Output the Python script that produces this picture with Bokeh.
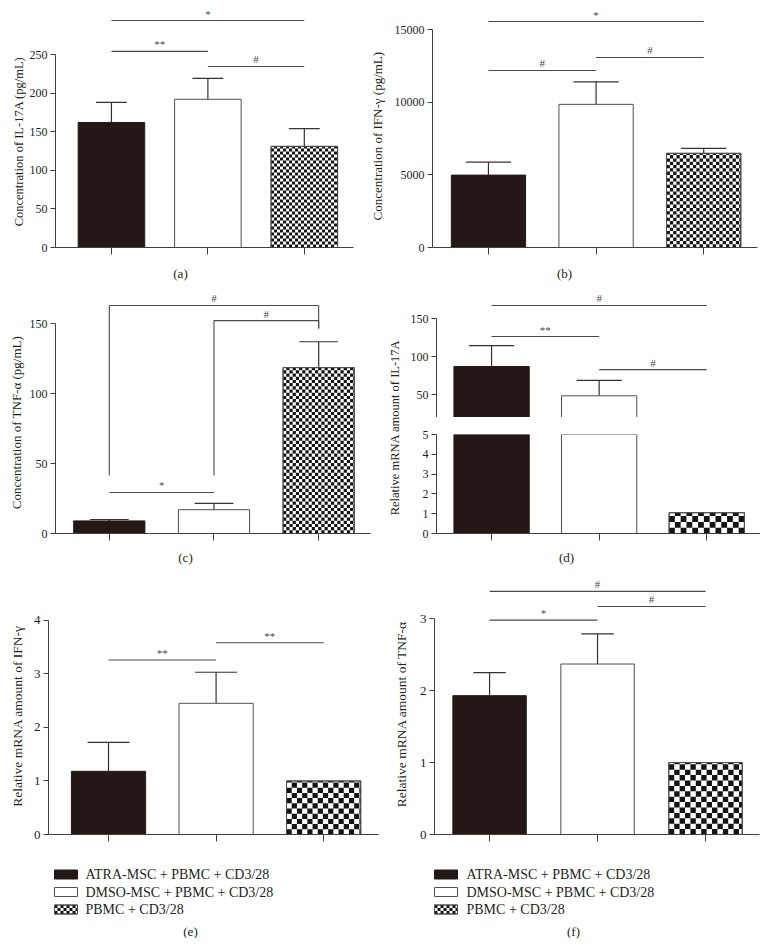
import numpy as np
from math import pi, ceil
from bokeh.plotting import figure
from bokeh.layouts import row, column, Spacer
from bokeh.models import Range1d, FixedTicker
from bokeh.core.properties import value
from bokeh.embed import file_html
from bokeh.resources import INLINE

# ---------------- data ----------------
groups = [1, 2, 3]
group_names = ["ATRA-MSC + PBMC + CD3/28", "DMSO-MSC + PBMC + CD3/28", "PBMC + CD3/28"]
nan = float("nan")

a_values = [162, 192, 131]
a_err_top = [188, 219, 154]
a_ticks = [0, 50, 100, 150, 200, 250]
a_sig_from = [1, 1, 2]
a_sig_to = [3, 2, 3]
a_sig_level = [294, 254, 234.5]
a_sig_text = ["*", "**", "#"]

b_values = [4980, 9850, 6480]
b_err_top = [5880, 11400, 6820]
b_ticks = [0, 5000, 10000, 15000]
b_sig_from = [1, 1, 2]
b_sig_to = [3, 2, 3]
b_sig_level = [15550, 12180, 13074]
b_sig_text = ["*", "#", "#"]

c_values = [9, 17, 118.5]
c_err_top = [10, 21.5, 137]
c_ticks = [0, 50, 100, 150]
c_sig_from = [1, 2, 1]
c_sig_to = [3, 3, 2]
c_sig_level = [162.9, 152.1, 29.3]
c_sig_text = ["#", "#", "*"]
c_leg_left_bottom = [41.4, 41.4, nan]
c_leg_right_bottom = [146.4, 146.4, nan]

d_values = [87, 48.5, 1.05]
d_err_top = [114.5, 68.8, nan]
d_ticks_low = [0, 1, 2, 3, 4, 5]
d_ticks_high = [20, 50, 100, 150]
d_break_low = 5
d_break_high = 20
d_sig_from = [1, 1, 2]
d_sig_to = [3, 2, 3]
d_sig_level = [167.1, 126.3, 82.9]
d_sig_text = ["#", "**", "#"]

e_values = [1.18, 2.45, 1.0]
e_err_top = [1.72, 3.03, nan]
e_ticks = [0, 1, 2, 3, 4]
e_sig_from = [1, 2]
e_sig_to = [2, 3]
e_sig_level = [3.26, 3.58]
e_sig_text = ["**", "**"]

f_values = [1.93, 2.37, 1.0]
f_err_top = [2.25, 2.79, nan]
f_ticks = [0, 1, 2, 3]
f_sig_from = [1, 2, 1]
f_sig_to = [3, 3, 2]
f_sig_level = [3.38, 3.17, 2.98]
f_sig_text = ["#", "#", "*"]

ylabels = {
    "a": "Concentration of IL-17A (pg/mL)",
    "b": "Concentration of IFN-\u03b3 (pg/mL)",
    "c": "Concentration of TNF-\u03b1 (pg/mL)",
    "d": "Relative mRNA amount of IL-17A",
    "e": "Relative mRNA amount of IFN-\u03b3",
    "f": "Relative mRNA amount of TNF-\u03b1",
}
captions = {k: "(%s)" % k for k in "abcdef"}

# ---------------- style / layout ----------------
FONT = "Liberation Serif"
DARK = "#231815"
EDGE = "#505050"
AX = "#404040"
SIG = "#4a4a4a"
TXT = "#231f20"
CHK = "#141414"

# main plot geometry (pixels) and ranges
cfg = {
    "a": dict(W=342, H=249, L=29, R=15, T=0, B=10, xr=(0.42, 3.51), yr=(0, 309.6),
              bw=0.69, cap=0.32, cell=3.0, fs="12px"),
    "b": dict(W=374, H=249, L=46, R=3, T=0, B=10, xr=(0.48, 3.50), yr=(0, 16445),
              bw=0.69, cap=0.42, cell=3.3, fs="12px"),
    "c": dict(W=352, H=253, L=28, R=8, T=0, B=10, xr=(0.486, 3.495), yr=(0, 173.6),
              bw=0.68, cap=0.37, cell=3.2, fs="12px"),
    "d_up": dict(W=358, H=127, L=34, R=0, T=0, B=0, xr=(0.488, 3.50), yr=(20, 186.8),
                 bw=0.70, cap=0.42, cell=5.8, fs="12px"),
    "d_low": dict(W=358, H=126, L=34, R=0, T=17, B=10, xr=(0.488, 3.50), yr=(0, 5),
                  bw=0.70, cap=0.42, cell=5.8, fs="12px"),
    "e": dict(W=358, H=274, L=22, R=6, T=0, B=10, xr=(0.442, 3.51), yr=(0, 4.93),
              bw=0.69, cap=0.39, cell=5.2, fs="13px"),
    "f": dict(W=352, H=274, L=26, R=1, T=0, B=10, xr=(0.49, 3.5), yr=(0, 3.67),
              bw=0.68, cap=0.30, cell=5.4, fs="13px"),
}

# text strips: (width, height, x, y) for y-axis titles and captions
ylab_strip = {"a": (18, 249, 10, 138.5), "b": (18, 249, 9, 133), "c": (18, 253, 8, 137.5),
              "d": (24, 253, 16, 137), "e": (18, 274, 9, 151), "f": (24, 274, 17, 149)}
ylab_fs = {"a": "12.5px", "b": "13px", "c": "13px", "d": "12.5px", "e": "13.5px", "f": "13.5px"}
cap_strip = {"a": (360, 33, 172, 16), "b": (392, 33, 196, 16), "c": (370, 27, 177, 14),
             "d": (382, 27, 188, 14), "e": (376, 94, 182, 87), "f": (376, 94, 189, 87)}
legend_geom = {"e": dict(x0=46, x1=69, tx=77, rows=[30, 47.5, 65]),
               "f": dict(x0=50, x1=73, tx=82, rows=[30, 47.5, 65])}


def strip(w, h):
    p = figure(width=w, height=h, x_range=Range1d(0, w), y_range=Range1d(h, 0),
               output_backend="svg", toolbar_location=None,
               x_axis_location=None, y_axis_location=None,
               min_border_left=0, min_border_right=0, min_border_top=0, min_border_bottom=0)
    p.outline_line_color = None
    p.grid.visible = False
    return p


def ylabel_fig(k):
    w, h, x, y = ylab_strip[k]
    p = strip(w, h)
    p.text(x=[x], y=[y], text=[ylabels[k]], angle=pi / 2, text_align="center",
           text_baseline="middle", text_font=value(FONT), text_font_size=ylab_fs[k],
           text_color=TXT)
    return p


def checker_cells(x0, x1, y0, y1, dx, dy):
    L, R, B, T = [], [], [], []
    nx = int(ceil((x1 - x0) / dx - 1e-9))
    ny = int(ceil((y1 - y0) / dy - 1e-9))
    for i in range(nx):
        for j in range(ny):
            if (i + j) % 2 == 0:
                L.append(x0 + i * dx)
                R.append(min(x0 + (i + 1) * dx, x1))
                B.append(y0 + j * dy)
                T.append(min(y0 + (j + 1) * dy, y1))
    return L, R, B, T


def caption_fig(k, legend=False):
    w, h, x, y = cap_strip[k]
    p = strip(w, h)
    p.text(x=[x], y=[y], text=[captions[k]], text_align="center", text_baseline="middle",
           text_font=value(FONT), text_font_size="13px", text_color=TXT)
    if legend:
        g = legend_geom[k]
        rows = g["rows"]
        hh = 4.5
        styles = [(DARK, DARK), ("white", EDGE), ("white", EDGE)]
        for i, yc in enumerate(rows):
            p.quad(left=[g["x0"]], right=[g["x1"]], top=[yc - hh], bottom=[yc + hh],
                   fill_color=styles[i][0], line_color=styles[i][1], line_width=1)
        l, r, b, t = checker_cells(g["x0"], g["x1"], rows[2] - hh, rows[2] + hh, 3.0, 3.0)
        p.quad(left=l, right=r, bottom=b, top=t, fill_color=CHK, line_color=None)
        p.quad(left=[g["x0"]], right=[g["x1"]], top=[rows[2] - hh], bottom=[rows[2] + hh],
               fill_color=None, line_color=EDGE, line_width=1)
        p.text(x=[g["tx"]] * 3, y=rows, text=group_names, text_align="left",
               text_baseline="middle", text_font=value(FONT), text_font_size="14px",
               text_color=TXT)
    return p


def style_yaxis(ax, ticks, c):
    ax.ticker = FixedTicker(ticks=ticks, minor_ticks=[])
    ax.bounds = (ticks[0], ticks[-1])
    ax.major_tick_out = 5
    ax.major_tick_in = 0
    ax.minor_tick_line_color = None
    ax.axis_line_color = AX
    ax.major_tick_line_color = AX
    ax.major_label_text_font = FONT
    ax.major_label_text_font_size = c["fs"]
    ax.major_label_text_color = TXT
    ax.major_label_standoff = 3


def main_fig(k, ticks, xaxis=True):
    c = cfg[k]
    p = figure(width=c["W"], height=c["H"], x_range=Range1d(*c["xr"]), y_range=Range1d(*c["yr"]),
               output_backend="svg", toolbar_location=None,
               x_axis_location="below" if xaxis else None,
               min_border_left=c["L"], min_border_right=c["R"],
               min_border_top=c["T"], min_border_bottom=c["B"])
    p.outline_line_color = None
    p.grid.visible = False
    if xaxis:
        xa = p.xaxis[0]
        xa.ticker = FixedTicker(ticks=groups, minor_ticks=[])
        xa.major_label_overrides = {g: "" for g in groups}
        xa.major_label_text_font_size = "0px"
        xa.major_label_standoff = 0
        xa.major_tick_out = 7
        xa.major_tick_in = 0
        xa.minor_tick_line_color = None
        xa.axis_line_color = AX
        xa.major_tick_line_color = AX
    style_yaxis(p.yaxis[0], ticks, c)
    return p


def px_per_unit(c):
    fw = c["W"] - c["L"] - c["R"]
    fh = c["H"] - c["T"] - c["B"]
    return fw / (c["xr"][1] - c["xr"][0]), fh / (c["yr"][1] - c["yr"][0])


def add_bars(p, k, tops, bottom=0.0, only=(True, True, True)):
    c = cfg[k]
    hw = c["bw"] / 2
    kx, ky = px_per_unit(c)
    for i, g in enumerate(groups):
        if not only[i]:
            continue
        if i == 0:
            p.vbar(x=[g], bottom=[bottom], top=[tops[i]], width=c["bw"],
                   fill_color=DARK, line_color=DARK, line_width=1)
        else:
            p.vbar(x=[g], bottom=[bottom], top=[tops[i]], width=c["bw"],
                   fill_color="white", line_color=EDGE, line_width=1)
        if i == 2:
            l, r, b, t = checker_cells(g - hw, g + hw, bottom, tops[i],
                                       c["cell"] / kx, c["cell"] / ky)
            p.quad(left=l, right=r, bottom=b, top=t, fill_color=CHK, line_color=None)
            p.vbar(x=[g], bottom=[bottom], top=[tops[i]], width=c["bw"],
                   fill_color=None, line_color=EDGE, line_width=1)


def add_errors(p, k, values, errs):
    c = cfg[k]
    x = np.array(groups, dtype=float)
    v = np.array(values, dtype=float)
    e = np.array(errs, dtype=float)
    p.segment(x0=x, y0=v, x1=x, y1=e, line_color="#333333", line_width=1.2)
    p.segment(x0=x - c["cap"] / 2, y0=e, x1=x + c["cap"] / 2, y1=e,
              line_color="#333333", line_width=1.2)


def add_sig(p, sfrom, sto, level, text):
    x0 = np.array(sfrom, dtype=float)
    x1 = np.array(sto, dtype=float)
    y = np.array(level, dtype=float)
    p.segment(x0=x0, y0=y, x1=x1, y1=y, line_color=SIG, line_width=1.1)
    p.text(x=(x0 + x1) / 2, y=y, text=text, text_align="center", text_baseline="bottom",
           y_offset=-1, text_font=value(FONT), text_font_size="11px", text_color=SIG)


# ---- (a) ----
pa = main_fig("a", a_ticks)
add_errors(pa, "a", a_values, a_err_top)
add_bars(pa, "a", a_values)
add_sig(pa, a_sig_from, a_sig_to, a_sig_level, a_sig_text)

# ---- (b) ----
pb = main_fig("b", b_ticks)
add_errors(pb, "b", b_values, b_err_top)
add_bars(pb, "b", b_values)
add_sig(pb, b_sig_from, b_sig_to, b_sig_level, b_sig_text)

# ---- (c) ----
pc = main_fig("c", c_ticks)
add_errors(pc, "c", c_values, c_err_top)
add_bars(pc, "c", c_values)
add_sig(pc, c_sig_from, c_sig_to, c_sig_level, c_sig_text)
lvl = np.array(c_sig_level, dtype=float)
pc.segment(x0=np.array(c_sig_from, dtype=float), y0=np.array(c_leg_left_bottom),
           x1=np.array(c_sig_from, dtype=float), y1=lvl, line_color=SIG, line_width=1.1)
pc.segment(x0=np.array(c_sig_to, dtype=float), y0=np.array(c_leg_right_bottom),
           x1=np.array(c_sig_to, dtype=float), y1=lvl, line_color=SIG, line_width=1.1)

# ---- (d) broken axis: upper and lower segments ----
dv = np.array(d_values, dtype=float)
pd_up = main_fig("d_up", d_ticks_high, xaxis=False)
pd_up.yaxis[0].major_label_overrides = {d_break_high: ""}
add_errors(pd_up, "d_up", d_values, d_err_top)
add_bars(pd_up, "d_up", d_values, bottom=d_break_high, only=list(dv > d_break_high))
add_sig(pd_up, d_sig_from, d_sig_to, d_sig_level, d_sig_text)

pd_low = main_fig("d_low", d_ticks_low)
add_bars(pd_low, "d_low", list(np.minimum(dv, d_break_low)))

# ---- (e) ----
pe = main_fig("e", e_ticks)
add_errors(pe, "e", e_values, e_err_top)
add_bars(pe, "e", e_values)
add_sig(pe, e_sig_from, e_sig_to, e_sig_level, e_sig_text)

# ---- (f) ----
pf = main_fig("f", f_ticks)
add_errors(pf, "f", f_values, f_err_top)
add_bars(pf, "f", f_values)
add_sig(pf, f_sig_from, f_sig_to, f_sig_level, f_sig_text)


def panel(k, body, legend=False):
    return column(row(ylabel_fig(k), body), caption_fig(k, legend))


content = column(
    row(panel("a", pa), panel("b", pb)),
    row(panel("c", pc), panel("d", column(pd_up, pd_low))),
    row(panel("e", pe, True), panel("f", pf, True)),
)
layout = row(Spacer(width=8), column(Spacer(height=8), content))
open("out.html", "w").write(file_html(layout, INLINE))
